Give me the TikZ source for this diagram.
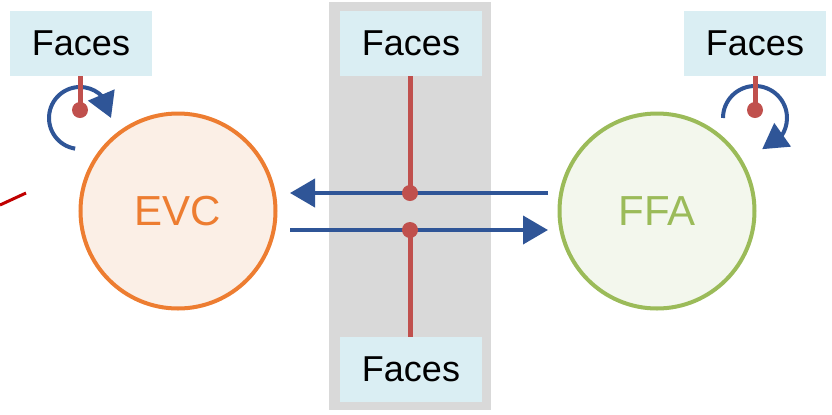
\documentclass[tikz,border=0pt]{standalone}
\usepackage{fontspec}
\setmainfont{Liberation Sans}
\usetikzlibrary{arrows.meta,bending}
\definecolor{faceblue}{HTML}{DAEEF3}
\definecolor{bandgray}{HTML}{D9D9D9}
\definecolor{stemred}{HTML}{C0504D}
\definecolor{darkred}{HTML}{C00000}
\definecolor{flowblue}{HTML}{2F5597}
\definecolor{evcorange}{HTML}{ED7D31}
\definecolor{evcfill}{HTML}{FBEFE6}
\definecolor{ffagreen}{HTML}{9BBB59}
\definecolor{ffafill}{HTML}{F3F7ED}
\begin{document}
\begin{tikzpicture}[x=0.5pt,y=-0.5pt,>={Triangle[length=12.5pt,width=14pt]},
  facebox/.style={fill=faceblue,minimum width=71pt,minimum height=32.5pt,inner sep=0pt,font=\fontsize{18}{20}\selectfont},
  area/.style={circle,line width=2pt,minimum size=97.5pt,inner sep=0pt,font=\fontsize{21}{24}\selectfont},
  stem/.style={stemred,line width=2.5pt},
  dot/.style={circle,fill=stemred,inner sep=0pt,minimum size=8pt},
  flow/.style={flowblue,line width=2pt,->},]
%%
\useasboundingbox (0,0) rectangle (832,414);
\fill [bandgray] (329,2) rectangle (491,410);
%
\node (evc) at (178,211) [area,draw=evcorange,fill=evcfill,text=evcorange] {EVC};
  \node (ffa) at (657,211) [area,draw=ffagreen,fill=ffafill,text=ffagreen] {FFA};
  \node (face_l) at (81,43.5) [facebox] {Faces};
  \node (face_t) at (411,43.5) [facebox] {Faces};
  \node (face_r) at (755,43.5) [facebox] {Faces};
  \node (face_b) at (411,369.5) [facebox] {Faces};
  \coordinate (spin_l) at (80,118);
  \coordinate (spin_r) at (755,118);
  \coordinate (back_from) at (548,193);
  \coordinate (back_to) at (290,193);
  \coordinate (fwd_from) at (290,230);
  \coordinate (fwd_to) at (548,230);
  \coordinate (cut_a) at (0,205);
  \coordinate (cut_b) at (26,193);
%
\draw [darkred,line width=1.5pt] (cut_a) -- (cut_b);
  \draw [flow] ([shift={(99:31)}]spin_l) arc[start angle=99,end angle=360,radius=31];
  \draw [flow] ([shift={(180:32)}]spin_r) arc[start angle=180,end angle=437,radius=32];
  \draw [flow] (back_from) -- (back_to);
  \draw [flow] (fwd_from) -- (fwd_to);
  \node (dot_l) at (80,110) [dot] {};
  \node (dot_r) at (755,110) [dot] {};
  \node (dot_u) at (410,193) [dot] {};
  \node (dot_d) at (410,230) [dot] {};
  \draw [stem] (face_l.south -| dot_l) -- (dot_l.center);
  \draw [stem] (face_r.south -| dot_r) -- (dot_r.center);
  \draw [stem] (face_t.south -| dot_u) -- (dot_u.center);
  \draw [stem] (dot_d.center) -- (face_b.north -| dot_d);
%
\end{tikzpicture}
\end{document}
